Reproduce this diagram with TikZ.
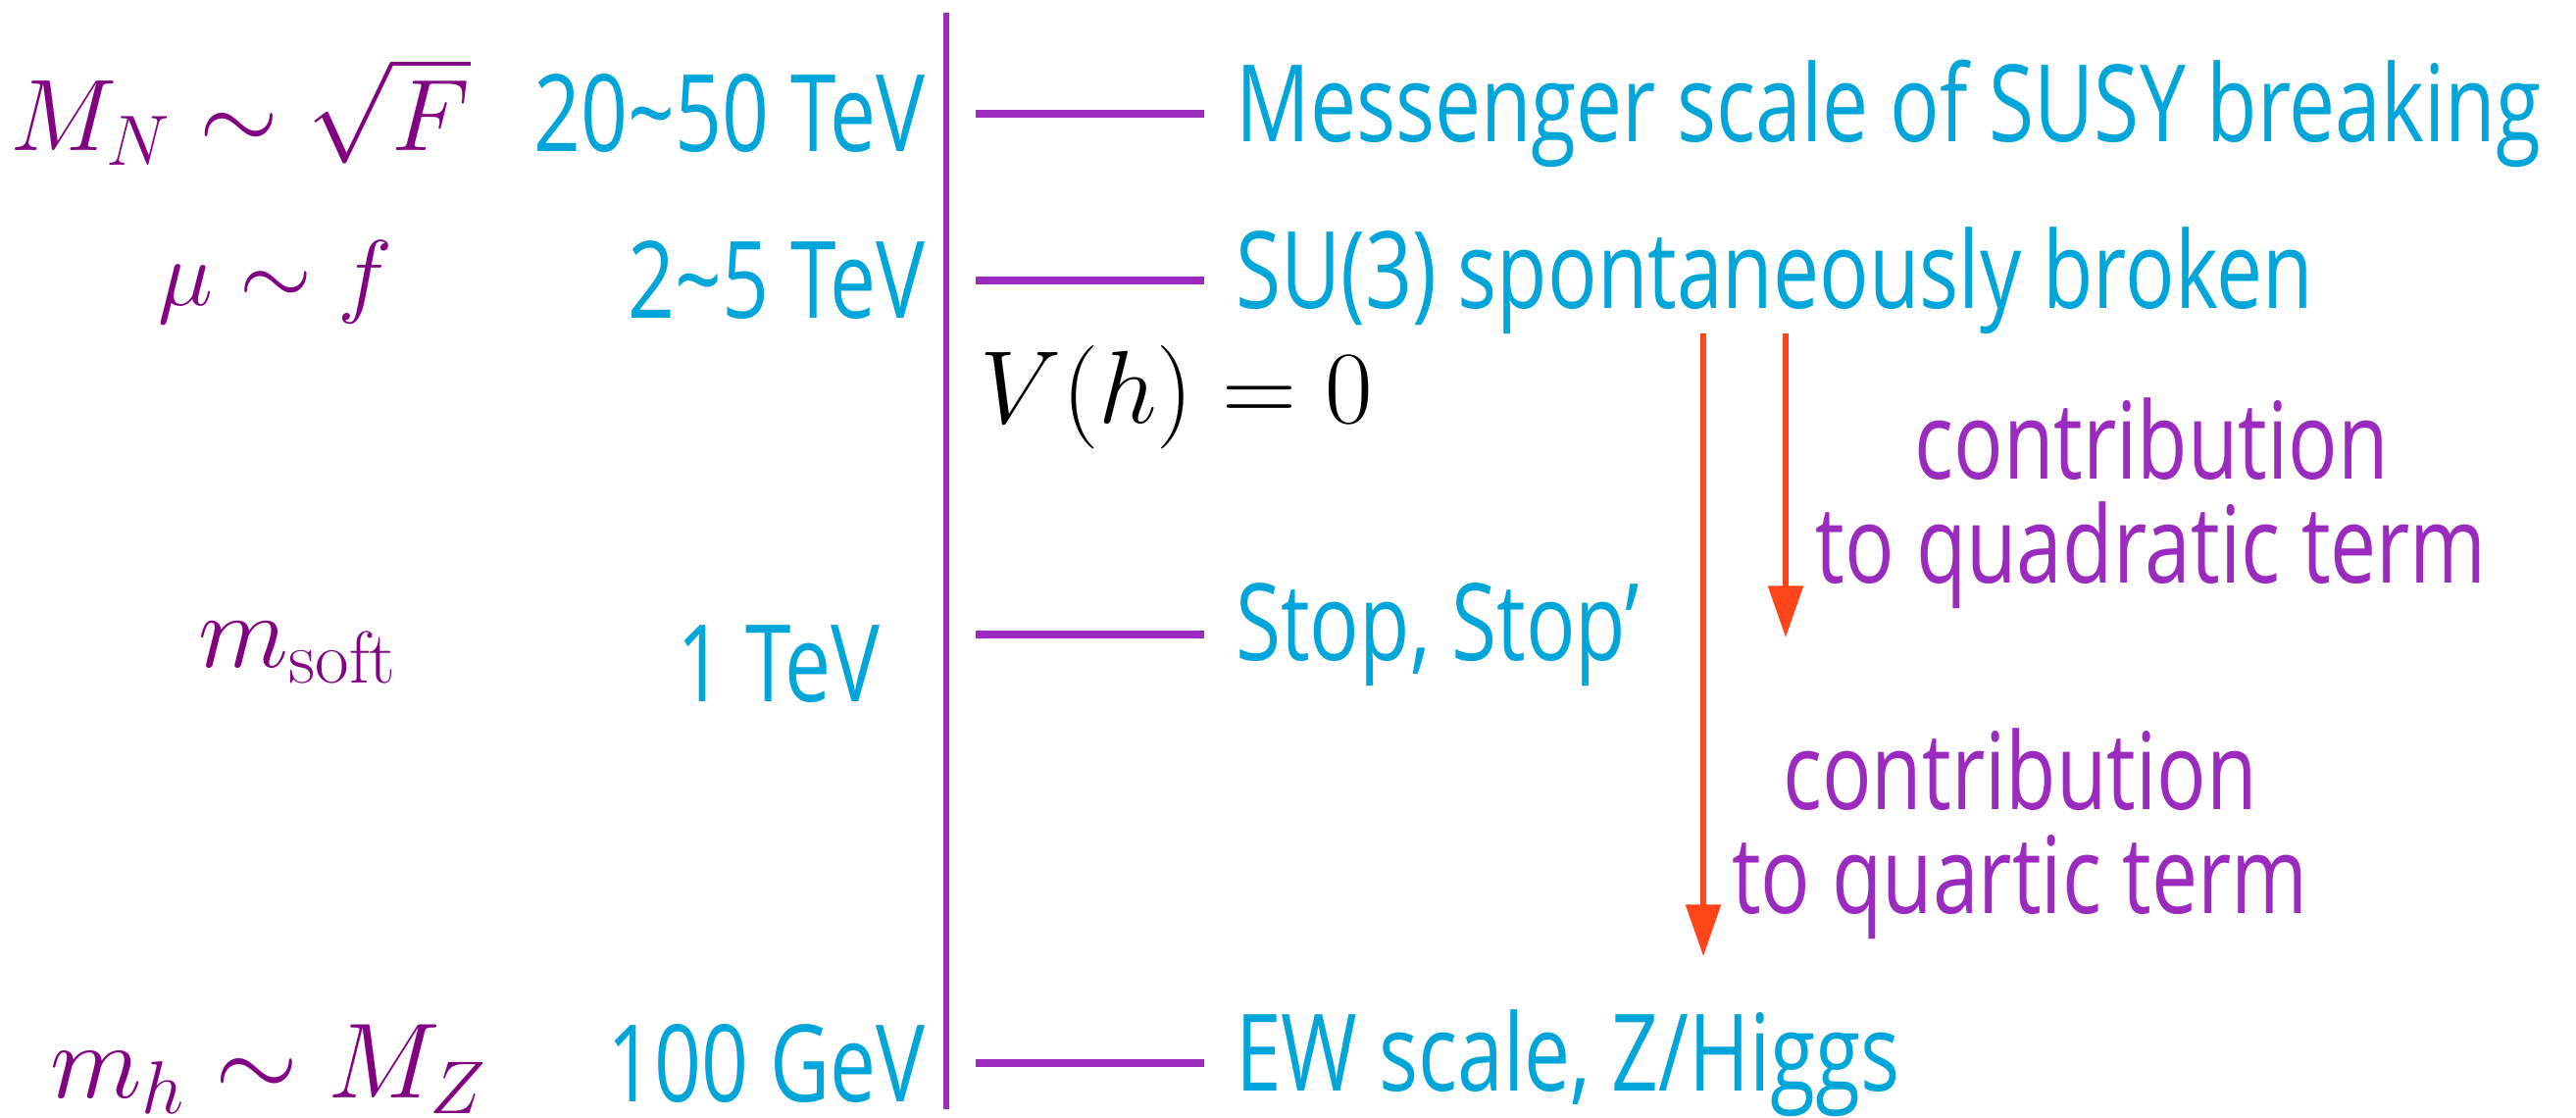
\RequirePackage{fix-cm}
\documentclass[tikz,border=0pt]{standalone}
\usepackage[no-math]{fontspec}
\setmainfont{Open Sans}
\newfontfamily\labelfont[FakeStretch=0.77]{Open Sans}
\usetikzlibrary{positioning,arrows.meta}
\definecolor{scaleblue}{HTML}{00A5D9}
\definecolor{linepurple}{HTML}{9A2BBE}
\definecolor{mathpurple}{HTML}{820082}
\definecolor{flowred}{HTML}{FF4519}
\newcommand\twid{\char126\relax}
\newcommand\fsz[1]{\fontsize{#1}{#1}\selectfont}
\begin{document}
\begin{tikzpicture}[x=0.01cm, y=-0.01cm, every node/.style={inner sep=1pt},
  rung/.style={linepurple, line width=2.3pt},
  energy/.style={scaleblue, anchor=east, font=\labelfont\fontsize{31}{30}\selectfont},
  physlabel/.style={scaleblue, font=\labelfont\fontsize{31}{30}\selectfont},
  massexpr/.style={mathpurple},
  contrib/.style={linepurple, align=center, font=\labelfont\fontsize{31}{30}\selectfont},
  flow/.style={flowred, line width=1.5pt, -{Triangle[length=15pt,width=10pt]}}]
\useasboundingbox (0,0) rectangle (2627,1139);
\coordinate (axtop) at (965,13);
\coordinate (axbot) at (965,1131);
\draw[linepurple, line width=1.5pt] (axtop) -- (axbot);
\foreach \name/\y in {mess/116, su/286, stop/647, ew/1084} {
  \coordinate (\name-l) at (995,\y);
  \coordinate (\name-r) at (1228,\y);
  \draw[rung] (\name-l) -- (\name-r);
}
\node[physlabel, right=0.28cm of mess-r] (messtxt) {Messenger scale of SUSY breaking};
\node[physlabel, right=0.28cm of su-r] (sutxt) {SU(3) spontaneously broken};
\node[physlabel, right=0.28cm of stop-r] (stoptxt) {Stop, Stop’};
\node[physlabel, right=0.28cm of ew-r] (ewtxt) {EW scale, Z/Higgs};
\node[energy] (e1) at (948,116) {20\twid50 TeV};
\node[energy] (e2) at (948,286) {2\twid5 TeV};
\node[energy] (e3) at (902,677) {1 TeV};
\node[energy] (e4) at (948,1084) {100 GeV};
\node[massexpr, font=\fsz{29.5}] (mn) at (245,114) {$M_N\sim\sqrt{F}$};
\node[massexpr, font=\fsz{27}] (mu) at (281,288) {$\mu\sim f$};
\node[massexpr, font=\fsz{30.5}] (msoft) at (304,665) {$m_{\mathrm{soft}}$};
\node[massexpr, font=\fsz{31}] (mh) at (274,1090) {$m_h\sim M_Z$};
\node[font=\fsz{30}] (pot) at (1200,405) {$V(h)=0$};
\node[contrib] (quadtxt) at (2194,513) {contribution\\to quadratic term};
\node[contrib] (quarttxt) at (2060,850) {contribution\\to quartic term};
\coordinate (quart-s) at (1737,340);
\coordinate (quart-e) at (1737,975);
\coordinate (quad-s) at (1821,340);
\coordinate (quad-e) at (1821,650);
\draw[flow] (quart-s) -- (quart-e);
\draw[flow] (quad-s) -- (quad-e);
\end{tikzpicture}
\end{document}
